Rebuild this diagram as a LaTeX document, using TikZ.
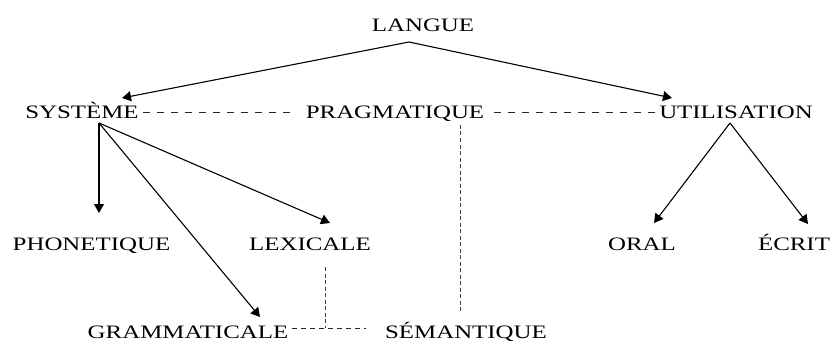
\documentclass[tikz,border=0pt]{standalone}
\usepackage{fontspec}
\setmainfont{Liberation Serif}[FakeStretch=1.31]
\usetikzlibrary{arrows.meta}

\begin{document}
\begin{tikzpicture}[x=1pt,y=-1pt,line width=1.1pt,>={Triangle[length=9pt,width=10pt]},
  lbl/.style={inner xsep=6pt,inner ysep=0pt,text height=12.5pt,text depth=0pt,font=\fontsize{19}{21}\selectfont},
  dsh/.style={line width=0.9pt,black!85,dash pattern=on 7pt off 7pt},
  vdsh/.style={line width=1pt,black!75,dash pattern=on 4pt off 2.5pt}]
\useasboundingbox (0,0) rectangle (832,342);
% top
\node[lbl](langue)at(423,25){LANGUE};
% second row
\node[lbl](sys)at(82,112.5){SYSTÈME};
\node[lbl](pra)at(395,112.5){PRAGMATIQUE};
\node[lbl](uti)at(736,112.5){UTILISATION};
% third row
\node[lbl](pho)at(91.5,244){PHONETIQUE};
\node[lbl](lex)at(310,244){LEXICALE};
\node[lbl](oral)at(642,244){ORAL};
\node[lbl](ecr)at(794,244){ÉCRIT};
% bottom row
\node[lbl](gra)at(188,332){GRAMMATICALE};
\node[lbl](sem)at(466,332){SÉMANTIQUE};
\draw[->]([shift={(-14,17)}]langue.center)--([shift={(40,-14.5)}]sys.center);
\draw[->]([shift={(-14,17)}]langue.center)--([shift={(-64,-14.5)}]uti.center);
\foreach \x/\y in {pho/{(7.5,-31)},lex/{(20,-21)},gra/{(72,-15)}}
\draw[->]([shift={(17,10.5)}]sys.center)--([shift={\y}]\x.center);
\foreach \x/\y in {oral/{(12,-21)},ecr/{(14,-20)}}
\draw[->]([shift={(-6,10.5)}]uti.center)--([shift={\y}]\x.center);
% dashed links
\draw[dsh]([shift={(61,0)}]sys.center)--([shift={(-98,0)}]pra.center);
\draw[dsh]([shift={(99,0)}]pra.center)--([shift={(-78,0)}]uti.center);
\draw[vdsh]([shift={(65,12.5)}]pra.center)--([shift={(-6,-20)}]sem.center);
\draw[vdsh]([shift={(15,23)}]lex.center)--([shift={(137,-4)}]gra.center);
\draw[dsh,dash pattern=on 5pt off 4pt]([shift={(104,-4)}]gra.center)--([shift={(178,-4)}]gra.center);
\end{tikzpicture}
\end{document}
